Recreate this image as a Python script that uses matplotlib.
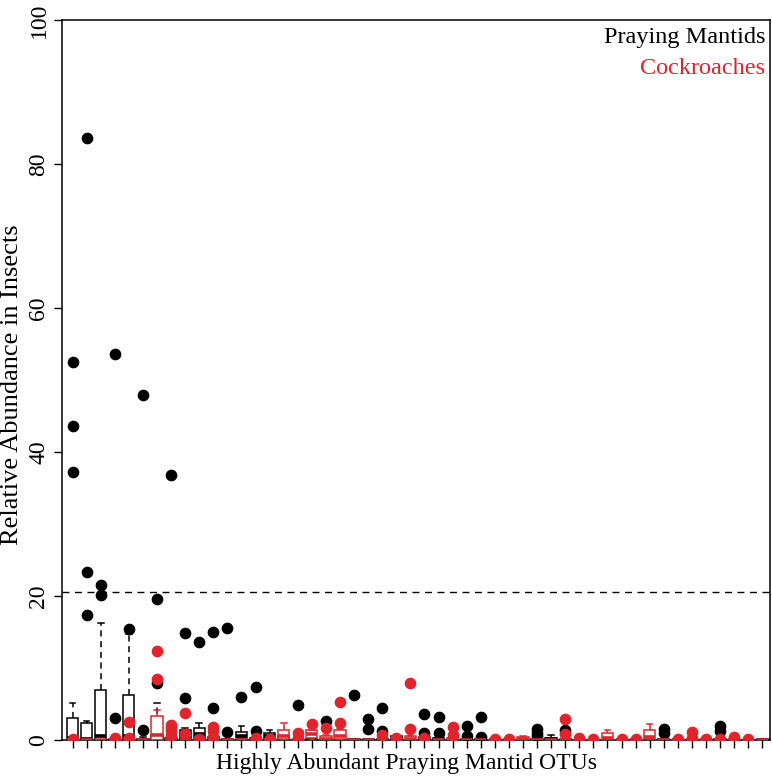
import matplotlib
matplotlib.use("Agg")
import matplotlib.pyplot as plt

# ---- data ----
otu_ids = list(range(1, 51))

# Praying mantid box stats per OTU: (whislo, q1, med, q3, whishi)
mantid_stats = [
    (0, 0, 0.3, 3.0, 5.2), (0, 0, 0.2, 2.4, 2.6), (0, 0, 0.5, 6.9, 16.3), (0, 0, 0, 0.2, 0.3),
    (0, 0, 0.5, 6.3, 14.7), (0, 0, 0, 0.2, 0.4), (0, 0, 0.2, 0.7, 5.2), (0, 0, 0, 0.3, 0.5),
    (0, 0, 0.2, 1.4, 1.6), (0, 0.2, 0.9, 1.7, 2.4), (0, 0, 0.1, 0.4, 0.6), (0, 0, 0, 0.1, 0.2),
    (0, 0.3, 0.6, 1.1, 1.9), (0, 0, 0.1, 0.3, 0.5), (0, 0.2, 0.5, 1.0, 1.4), (0, 0, 0.2, 0.5, 0.8),
    (0, 0, 0, 0, 0), (0, 0, 0, 0.2, 0.3), (0, 0, 0, 0.1, 0.2), (0, 0, 0, 0, 0),
    (0, 0, 0, 0.1, 0.2), (0, 0, 0, 0.1, 0.2), (0, 0, 0, 0.1, 0.2), (0, 0, 0.2, 0.5, 0.6),
    (0, 0, 0, 0, 0), (0, 0, 0.1, 0.4, 0.6), (0, 0, 0.1, 0.3, 0.4), (0, 0, 0, 0, 0),
    (0, 0, 0, 0.1, 0.2), (0, 0, 0, 0.1, 0.2), (0, 0, 0, 0, 0), (0, 0, 0, 0, 0),
    (0, 0, 0, 0, 0), (0, 0, 0, 0.1, 0.2), (0, 0, 0.1, 0.3, 0.7), (0, 0, 0, 0.1, 0.2),
    (0, 0, 0, 0, 0), (0, 0, 0, 0, 0), (0, 0, 0, 0, 0), (0, 0, 0, 0, 0),
    (0, 0, 0, 0, 0), (0, 0, 0, 0, 0), (0, 0, 0, 0.1, 0.2), (0, 0, 0, 0, 0),
    (0, 0, 0, 0, 0), (0, 0, 0, 0, 0), (0, 0, 0, 0.1, 0.2), (0, 0, 0, 0, 0),
    (0, 0, 0, 0, 0), (0, 0, 0, 0.1, 0.2),
]
mantid_outliers = [
    [52.5, 43.6, 37.2], [83.6, 23.4, 17.4], [21.5, 20.2], [53.6, 3.0], [15.4], [47.9, 1.4],
    [19.6, 7.9], [36.8], [14.8, 5.9], [13.6], [15.0, 4.4], [15.6, 1.1], [6.0], [7.4, 1.2],
    [], [], [4.9], [], [2.6], [], [6.3], [2.9, 1.5], [4.4, 1.2], [], [], [3.6, 1.0],
    [3.15, 1.0], [], [1.95, 0.5], [3.15, 0.45], [], [], [], [1.5, 1.0, 0.6], [], [1.4],
    [], [], [], [], [], [], [1.5, 1.0], [], [], [], [1.95, 1.2], [], [], [],
]

# Cockroach box stats per OTU: (whislo, q1, med, q3, whishi)
cockroach_stats = [
    (0, 0, 0, 0, 0), (0, 0, 0, 0, 0), (0, 0, 0, 0, 0), (0, 0, 0, 0, 0),
    (0, 0, 0, 0, 0), (0, 0, 0, 0, 0), (0, 0, 0.7, 3.3, 4.1), (0, 0, 0, 0, 0),
    (0, 0, 0, 0, 0), (0, 0, 0, 0, 0), (0, 0, 0, 0, 0), (0, 0, 0, 0, 0),
    (0, 0, 0, 0, 0), (0, 0, 0, 0, 0), (0, 0, 0, 0, 0), (0, 0.2, 0.6, 1.4, 2.4),
    (0, 0, 0, 0, 0), (0, 0.3, 0.8, 1.4, 1.4), (0, 0, 0.2, 0.5, 0.7), (0, 0.2, 0.6, 1.4, 1.5),
    (0, 0, 0, 0, 0), (0, 0, 0, 0, 0), (0, 0, 0, 0, 0), (0, 0, 0, 0, 0),
    (0, 0, 0.2, 0.5, 0.6), (0, 0, 0, 0, 0), (0, 0, 0, 0, 0), (0, 0, 0.1, 0.3, 0.4),
    (0, 0, 0, 0, 0), (0, 0, 0, 0, 0), (0, 0, 0, 0, 0), (0, 0, 0, 0, 0),
    (0, 0, 0.2, 0.4, 0.5), (0, 0, 0, 0, 0), (0, 0, 0, 0, 0), (0, 0, 0, 0, 0),
    (0, 0, 0, 0, 0), (0, 0, 0, 0, 0), (0, 0.1, 0.3, 1.0, 1.4), (0, 0, 0, 0, 0),
    (0, 0, 0, 0, 0), (0, 0.1, 0.4, 1.4, 2.2), (0, 0, 0, 0, 0), (0, 0, 0, 0, 0),
    (0, 0, 0, 0, 0), (0, 0, 0, 0, 0), (0, 0, 0, 0, 0), (0, 0, 0, 0, 0),
    (0, 0, 0, 0, 0), (0, 0, 0, 0, 0),
]
cockroach_outliers = [
    [0.2], [], [], [0.3], [2.5, 0.3], [], [12.3, 8.5], [2.1, 1.6, 1.2, 0.6], [3.8, 0.8], [0.2],
    [1.85, 1.2, 0.4], [], [], [0.25], [0.2], [], [1.0, 0.3], [2.2], [1.6], [5.3, 2.4],
    [], [], [0.7], [0.25], [7.9, 1.5], [0.25], [], [1.85, 0.7], [], [],
    [0.2], [0.2], [], [], [], [2.9, 0.8], [0.3], [0.2], [], [0.2],
    [0.2], [], [], [0.15], [1.1, 0.3], [0.15], [0.2], [0.35], [0.2], [],
]

threshold = 20.5
y_ticks = [0, 20, 40, 60, 80, 100]
legend_labels = ["Praying Mantids", "Cockroaches"]
x_label = "Highly Abundant Praying Mantid OTUs"
y_label = "Relative Abundance in Insects"

# ---- styling ----
BLACK = "#000000"
RED = "#e3232b"
plt.rcParams["font.family"] = ["Liberation Serif", "DejaVu Serif"]

fig = plt.figure(figsize=(7.72, 7.77), dpi=100)
W, H = 772, 777
ax = fig.add_axes([62 / W, 1 - 740 / H, (770 - 62) / W, (740 - 20) / H])


def to_stats(stats, outliers):
    out = []
    for (lo, q1, med, q3, hi), fl in zip(stats, outliers):
        out.append(dict(whislo=lo, q1=q1, med=med, q3=q3, whishi=hi, fliers=fl))
    return out


def draw(stats, outliers, color, z):
    ax.bxp(
        to_stats(stats, outliers),
        positions=otu_ids,
        widths=0.8,
        patch_artist=True,
        showfliers=True,
        boxprops=dict(facecolor="white", edgecolor=color, linewidth=1.1),
        medianprops=dict(color=color, linewidth=2.6, solid_capstyle="butt"),
        whiskerprops=dict(color=color, linewidth=1.1, linestyle=(0, (4, 3))),
        capprops=dict(color=color, linewidth=1.1),
        flierprops=dict(marker="o", markerfacecolor=color, markeredgecolor=color,
                        markersize=7.4, linestyle="none"),
        manage_ticks=False,
        zorder=z,
    )


draw(mantid_stats, mantid_outliers, BLACK, 2)
draw(cockroach_stats, cockroach_outliers, RED, 3)

ax.axhline(threshold, color="black", linewidth=1.0, linestyle=(0, (5, 4)), zorder=1)

ax.set_xlim(0.25, 50.55)
ax.set_ylim(0, 100)
ax.set_xticks(otu_ids)
ax.set_xticklabels([])
ax.set_yticks(y_ticks)
ax.set_yticklabels([str(t) for t in y_ticks], rotation=90, va="center", fontsize=17)
ax.tick_params(axis="both", direction="out", length=6, width=1.0, color="black")
ax.tick_params(axis="y", pad=3)
for s in ax.spines.values():
    s.set_linewidth(1.1)

ax.set_xlabel(x_label, fontsize=17)
ax.xaxis.set_label_coords(0.487, -0.0185)
ax.set_ylabel(y_label, fontsize=19)
ax.yaxis.set_label_coords(-0.0545, 0.493)

ax.text(0.993, 0.975, legend_labels[0], transform=ax.transAxes, ha="right", va="center",
        fontsize=17.5, color=BLACK)
ax.text(0.993, 0.933, legend_labels[1], transform=ax.transAxes, ha="right", va="center",
        fontsize=17.5, color=RED)

fig.savefig("out.png", dpi=100)
